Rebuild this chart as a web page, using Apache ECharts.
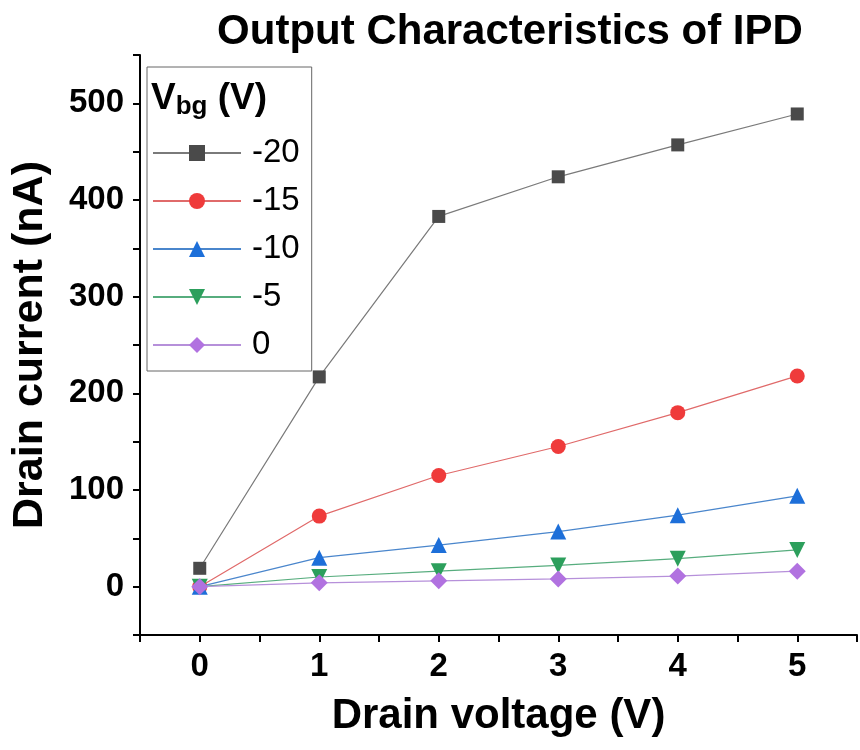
<!DOCTYPE html>
<html>
<head>
<meta charset="utf-8">
<script src="https://cdn.jsdelivr.net/npm/echarts@6/dist/echarts.min.js"></script>
<style>html,body{margin:0;padding:0;background:#fff}#c{width:860px;height:750px}</style>
</head>
<body>
<div id="c"></div>
<script>
const voltages = [0, 1, 2, 3, 4, 5];
const seriesNames = ['-20', '-15', '-10', '-5', '0'];
const vbgm20 = [19, 217, 383, 424, 457, 489];
const vbgm15 = [0, 73, 115, 145, 180, 218];
const vbgm10 = [0, 30, 43, 57, 74, 94];
const vbgm5 = [0, 10, 16, 22, 29, 38];
const vbg0 = [0, 4, 6, 8, 11, 16];
const xTicks = [0, 1, 2, 3, 4, 5];
const yTicks = [0, 100, 200, 300, 400, 500];

const FONT = 'Arial, "Liberation Sans", sans-serif';
const values = [vbgm20, vbgm15, vbgm10, vbgm5, vbg0];
const markerColors = ['#4a4a4a', '#ef3b3b', '#1d6fd9', '#2c9f5c', '#b172e0'];
const lineColors = ['#7a7a7a', '#e06a6a', '#4a86cc', '#57ad7e', '#b690da'];
const symbols = ['rect', 'circle', 'triangle', 'path://M0,0 L10,0 L5,9 Z', 'diamond'];
const symbolSizes = [13, 15, 16, 16, 17];

const series = values.map((arr, i) => ({
  name: seriesNames[i],
  type: 'line',
  data: arr.map((v, j) => [voltages[j], v]),
  symbol: symbols[i],
  symbolSize: symbolSizes[i],
  showAllSymbol: true,
  lineStyle: { color: lineColors[i], width: 1.2 },
  itemStyle: { color: markerColors[i], borderWidth: 0 },
  z: 2 + i,
  animation: false
}));

const chart = echarts.init(document.getElementById('c'), null, { renderer: 'canvas' });
chart.setOption({
  backgroundColor: '#fff',
  animation: false,
  title: {
    text: 'Output Characteristics of IPD',
    left: 505, top: 6, textAlign: 'center',
    textStyle: { fontFamily: FONT, fontWeight: 'bold', fontSize: 42, color: '#000' }
  },
  grid: { left: 140, right: 0, top: 55, bottom: 115, containLabel: false },
  xAxis: {
    type: 'value', min: -0.5, max: 5.5, interval: 0.5,
    name: 'Drain voltage (V)', nameLocation: 'middle', nameGap: 60,
    nameTextStyle: { fontFamily: FONT, fontWeight: 'bold', fontSize: 42, color: '#000' },
    axisLine: { show: true, onZero: false, lineStyle: { color: '#000', width: 2 } },
    axisTick: { show: true, inside: false, length: 7, lineStyle: { color: '#000', width: 2 } },
    axisLabel: {
      margin: 15, fontFamily: FONT, fontWeight: 'bold', fontSize: 33, color: '#000',
      showMinLabel: true, showMaxLabel: true,
      formatter: v => (xTicks.indexOf(Math.round(v * 100) / 100) >= 0 ? String(Math.round(v)) : '')
    },
    splitLine: { show: false }
  },
  yAxis: {
    type: 'value', min: -50, max: 550, interval: 50,
    name: 'Drain current (nA)', nameLocation: 'middle', nameGap: 88,
    nameTextStyle: { fontFamily: FONT, fontWeight: 'bold', fontSize: 43, color: '#000' },
    axisLine: { show: true, onZero: false, lineStyle: { color: '#000', width: 2 } },
    axisTick: { show: true, inside: false, length: 7, lineStyle: { color: '#000', width: 2 } },
    axisLabel: {
      margin: 16, fontFamily: FONT, fontWeight: 'bold', fontSize: 33, color: '#000',
      formatter: v => (yTicks.indexOf(Math.round(v)) >= 0 ? String(Math.round(v)) : '')
    },
    splitLine: { show: false }
  },
  legend: {
    data: seriesNames,
    orient: 'vertical',
    left: 147, top: 67,
    padding: [69, 12, 9, 5],
    itemGap: 14,
    itemWidth: 88, itemHeight: 20,
    borderColor: '#666', borderWidth: 1,
    selectedMode: false,
    textStyle: { fontFamily: FONT, fontSize: 33, color: '#000', lineHeight: 34, padding: [0, 0, 0, 6] }
  },
  graphic: [{
    type: 'text',
    left: 151, top: 74,
    z: 100,
    style: {
      text: '{v|V}{s|bg}{v| (V)}',
      rich: {
        v: { fontFamily: FONT, fontWeight: 'bold', fontSize: 37, color: '#000', verticalAlign: 'top', lineHeight: 40 },
        s: { fontFamily: FONT, fontWeight: 'bold', fontSize: 26, color: '#000', verticalAlign: 'bottom', padding: [20, 0, 0, 0], lineHeight: 26 }
      }
    }
  }],
  series: series
});
</script>
</body>
</html>
